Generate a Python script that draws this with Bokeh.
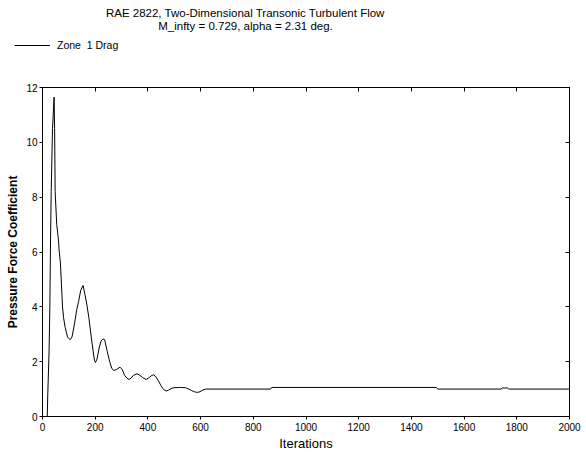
from bokeh.plotting import figure
from bokeh.layouts import column, row
from bokeh.models import LinearAxis, FixedTicker, Label, Legend, LegendItem, Range1d
from bokeh.embed import file_html
from bokeh.resources import INLINE

# ---- data ----
iterations = [18, 20, 25, 28, 30, 33, 38, 44, 46, 48, 54, 61, 63, 68, 72, 76, 80, 86, 95, 105,
              112, 120, 130, 137, 145, 154, 160, 168, 176, 185, 192, 197, 201, 207, 215, 222,
              230, 236, 245, 255, 263, 271, 282, 294, 302, 312, 320, 328, 336, 345, 359, 370,
              380, 393, 405, 415, 422, 430, 440, 450, 460, 469, 478, 488, 499, 520, 543, 555,
              565, 577, 587, 597, 605, 619, 866, 870, 1495, 1500, 1740, 1745, 1765, 1770, 2000]
drag = [0.0, 0.8, 2.4, 4.1, 6.0, 8.2, 10.5, 11.65, 10.5, 8.2, 7.0, 6.4, 6.07, 5.6, 4.8, 4.0,
        3.6, 3.25, 2.9, 2.8, 2.9, 3.3, 3.9, 4.2, 4.6, 4.78, 4.5, 4.1, 3.6, 2.9, 2.4, 2.05,
        1.97, 2.1, 2.5, 2.75, 2.83, 2.8, 2.4, 2.0, 1.75, 1.68, 1.72, 1.8, 1.72, 1.5, 1.4,
        1.35, 1.4, 1.5, 1.56, 1.5, 1.42, 1.35, 1.42, 1.5, 1.52, 1.45, 1.3, 1.12, 0.98, 0.93,
        0.96, 1.02, 1.05, 1.06, 1.05, 1.0, 0.95, 0.9, 0.88, 0.9, 0.95, 1.0, 1.0, 1.06, 1.06,
        1.0, 1.0, 1.04, 1.04, 1.0, 1.0]

x_ticks = [0, 200, 400, 600, 800, 1000, 1200, 1400, 1600, 1800, 2000]
y_ticks = [0, 2, 4, 6, 8, 10, 12]

title_line1 = "RAE 2822, Two-Dimensional Transonic Turbulent Flow"
title_line2 = "M_infty = 0.729, alpha = 2.31 deg."
legend_label = "Zone  1 Drag"
x_label = "Iterations"
y_label = "Pressure Force Coefficient"

FONT = "Liberation Sans"
W, H = 586, 453
HEADER_H = 60

# ---------------- header (titles + legend) ----------------
hdr = figure(width=W, height=HEADER_H, output_backend="svg", toolbar_location=None,
             x_range=Range1d(0, W), y_range=Range1d(HEADER_H, 0),
             x_axis_location=None, y_axis_location=None, min_border=0)
hdr.title.visible = False
hdr.xgrid.visible = False
hdr.ygrid.visible = False
hdr.outline_line_color = None
hdr.border_fill_color = "white"
hdr.background_fill_color = "white"

for txt, yy in ((title_line1, 12), (title_line2, 25)):
    hdr.add_layout(Label(x=245, y=yy, text=txt, text_font=FONT, text_font_size="11.5px",
                         text_align="center", text_baseline="middle", text_color="black"))

legend_src = hdr.line([float("nan")], [float("nan")], line_color="black", line_width=1)
hdr.add_layout(Legend(items=[LegendItem(label=legend_label, renderers=[legend_src])],
                      location=(14, 9), glyph_width=36, glyph_height=12, label_standoff=7,
                      padding=0, margin=0, spacing=0, border_line_color=None,
                      background_fill_alpha=0, label_text_font=FONT,
                      label_text_color="black",
                      label_text_font_size="10.5px", label_height=12), "center")

# ---------------- main plot ----------------
p = figure(width=W, height=H - HEADER_H, output_backend="svg", toolbar_location=None,
           x_range=Range1d(0, 2000), y_range=Range1d(0, 12),
           min_border_left=42, min_border_right=17, min_border_top=87 - HEADER_H,
           min_border_bottom=36, x_axis_location=None, y_axis_location=None)
p.title.visible = False
p.xgrid.visible = False
p.ygrid.visible = False
p.outline_line_color = "black"
p.outline_line_width = 1
p.background_fill_color = "white"
p.border_fill_color = "white"

r = p.line(iterations, drag, line_color="black", line_width=1)


def make_axis(ticks, labels=True, inward=False):
    ax = LinearAxis(ticker=FixedTicker(ticks=ticks))
    ax.minor_tick_line_color = None
    ax.axis_line_color = "black"
    ax.major_tick_line_color = "black"
    if inward:
        ax.major_tick_in = 4
        ax.major_tick_out = 0
    else:
        ax.major_tick_in = 0
        ax.major_tick_out = 3
    if labels:
        ax.major_label_text_font = FONT
        ax.major_label_text_font_size = "10px"
        ax.major_label_text_color = "black"
    else:
        ax.major_label_text_font_size = "0px"
        ax.major_label_text_alpha = 0
        ax.major_label_standoff = 0
    return ax


left = make_axis(y_ticks)
left.major_label_standoff = 2
left.axis_label = y_label
left.axis_label_text_font = FONT
left.axis_label_text_font_size = "12px"
left.axis_label_text_font_style = "bold"
left.axis_label_text_color = "black"
left.axis_label_standoff = 3

bottom = make_axis(x_ticks)
bottom.major_label_standoff = 3
bottom.axis_label = x_label
bottom.axis_label_text_font = FONT
bottom.axis_label_text_font_size = "13px"
bottom.axis_label_text_font_style = "normal"
bottom.axis_label_text_color = "black"
bottom.axis_label_standoff = 2

top = make_axis(x_ticks, labels=False, inward=True)
right = make_axis(y_ticks, labels=False, inward=True)
p.add_layout(left, "left")
p.add_layout(bottom, "below")
p.add_layout(top, "above")
p.add_layout(right, "right")

layout = column(row(hdr), p, spacing=0)
open("out.html", "w").write(file_html(layout, INLINE))
